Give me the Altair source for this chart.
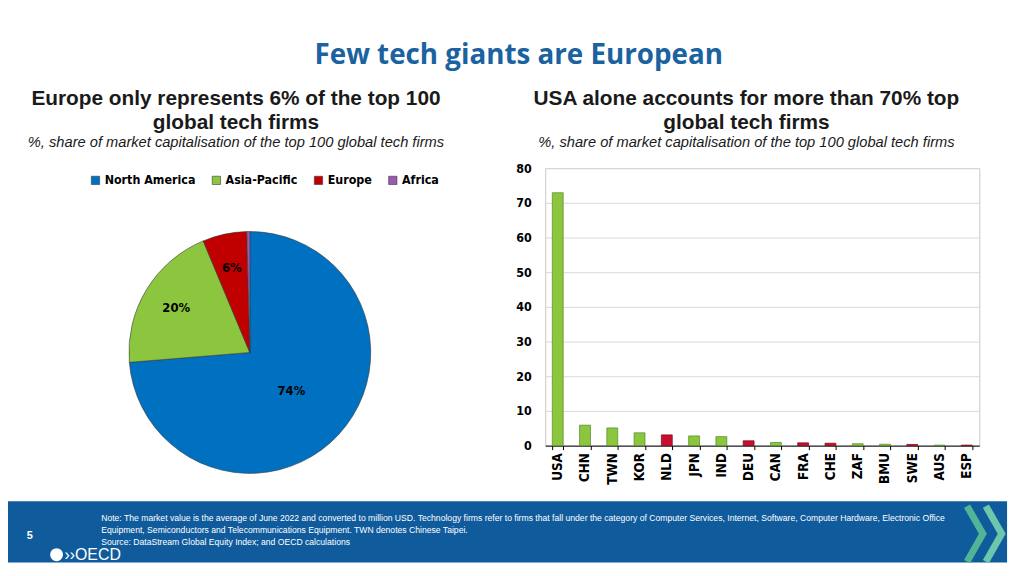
import altair as alt
import pandas as pd

# ---------------- data ----------------
regions = ["North America", "Asia-Pacific", "Europe", "Africa"]
region_share = [73.7, 20.0, 5.9, 0.4]
region_labels = ["74%", "20%", "6%", ""]
region_colors = ["#0070c0", "#8cc63f", "#c00000", "#9b59b6"]

countries = ["USA", "CHN", "TWN", "KOR", "NLD", "JPN", "IND", "DEU",
             "CAN", "FRA", "CHE", "ZAF", "BMU", "SWE", "AUS", "ESP"]
country_share = [72.9, 5.9, 5.1, 3.7, 3.1, 2.8, 2.6, 1.4,
                 0.9, 0.8, 0.7, 0.55, 0.4, 0.35, 0.15, 0.15]
country_group = ["Other", "Other", "Other", "Other", "Europe", "Other", "Other", "Europe",
                 "Other", "Europe", "Europe", "Other", "Other", "Europe", "Other", "Europe"]
y_ticks = [0, 10, 20, 30, 40, 50, 60, 70, 80]

main_title = "Few tech giants are European"
left_title = ["Europe only represents 6% of the top 100", "global tech firms"]
right_title = ["USA alone accounts for more than 70% top", "global tech firms"]
sub_title = "%, share of market capitalisation of the top 100 global tech firms"
note_lines = [
    "Note: The market value is the average of June 2022 and converted to million USD. Technology firms refer to firms that fall under the category of Computer Services, Internet, Software, Computer Hardware, Electronic Office",
    "Equipment, Semiconductors and Telecommunications Equipment. TWN denotes Chinese Taipei.",
    "Source: DataStream Global Equity Index; and OECD calculations",
]
page_number = "5"

NARROW = "Liberation Sans Narrow, DejaVu Sans Condensed, Arial Narrow, sans-serif"
ARIAL = "Liberation Sans, Arial, sans-serif"

# ---------------- pie ----------------
pie_df = pd.DataFrame({"region": regions, "share": region_share,
                       "label": region_labels, "ord": list(range(len(regions)))})

def panel_title(lines, dx, offset):
    return alt.TitleParams(
        text=lines, subtitle=sub_title, font=ARIAL, fontSize=21, fontWeight="bold",
        color="#1a1a1a", lineHeight=24, subtitleFont=ARIAL, subtitleFontSize=14.8,
        subtitleFontStyle="italic", subtitleColor="#1a1a1a", subtitlePadding=3,
        anchor="middle", frame="group", dx=dx, offset=offset)

PIE_DY = 30
pie_base = alt.Chart(pie_df).encode(
    theta=alt.Theta("share:Q", stack=True),
    order=alt.Order("ord:Q"),
)
arcs = pie_base.mark_arc(outerRadius=122, stroke="#3a3a3a", strokeWidth=0.6,
                         yOffset=PIE_DY).encode(
    color=alt.Color("region:N", scale=alt.Scale(domain=regions, range=region_colors),
                    legend=alt.Legend(orient="none", legendX=82, legendY=6,
                                      direction="horizontal", title=None,
                                      symbolType="square", symbolSize=70,
                                      symbolStrokeColor="#3a3a3a", symbolStrokeWidth=0.6,
                                      labelFont=NARROW, labelFontSize=12.5, labelFontWeight="bold",
                                      labelColor="#000000", labelOffset=3, columnPadding=14))
)
text_big = pie_base.mark_text(font=NARROW, fontSize=13, fontWeight="bold", color="#000000",
                              radius=57, yOffset=PIE_DY).encode(
    text=alt.condition("datum.share > 50", "label:N", alt.value("")))
text_small = pie_base.mark_text(font=NARROW, fontSize=13, fontWeight="bold", color="#000000",
                                radius=87, yOffset=PIE_DY).encode(
    text=alt.condition("datum.share > 50", alt.value(""), "label:N"))

pie = alt.layer(arcs, text_big, text_small).properties(
    width=488, height=312, title=panel_title(left_title, -14, 18))

# ---------------- bars ----------------
bar_df = pd.DataFrame({"country": countries, "share": country_share, "group": country_group})
bars = alt.Chart(bar_df).mark_bar(strokeWidth=0.7).encode(
    x=alt.X("country:N", sort=countries,
            scale=alt.Scale(paddingInner=0.6, paddingOuter=0.26),
            axis=alt.Axis(title=None, labelAngle=270, labelAlign="right", labelBaseline="middle",
                          labelFont=NARROW, labelFontSize=13.5, labelFontWeight="bold",
                          labelColor="#000000", labelPadding=3, tickBand="extent",
                          tickSize=4, tickColor="#000000", domainColor="#000000",
                          domainWidth=1, grid=False)),
    y=alt.Y("share:Q", scale=alt.Scale(domain=[0, 80]),
            axis=alt.Axis(title=None, values=y_ticks, grid=True, gridColor="#d9d9d9",
                          domain=False, ticks=False, labelPadding=14, labelFont=NARROW,
                          labelFontSize=12.5, labelFontWeight="bold", labelColor="#000000")),
    color=alt.Color("group:N", scale=alt.Scale(domain=["Other", "Europe"],
                                              range=["#8cc63f", "#c8102e"]), legend=None),
    stroke=alt.Stroke("group:N", scale=alt.Scale(domain=["Other", "Europe"],
                                                range=["#4f8a22", "#7a0012"]), legend=None),
).properties(width=438, height=280, title=panel_title(right_title, -16, 12),
             view=alt.ViewBackground(stroke="#c8c8c8", strokeWidth=1))

# ---------------- footer ----------------
foot_src = alt.Chart(pd.DataFrame({"k": [0]}))
foot_layers = []
for i, line in enumerate(note_lines):
    foot_layers.append(foot_src.mark_text(font=ARIAL, fontSize=8.7, color="#ffffff", align="left",
                                          baseline="middle").encode(
        x=alt.value(94), y=alt.value(17 + 12 * i), text=alt.value(line)))
foot_layers.append(foot_src.mark_text(font=ARIAL, fontSize=11, fontWeight="bold", color="#ffffff",
                                      baseline="middle").encode(
    x=alt.value(22), y=alt.value(35), text=alt.value(page_number)))
foot_layers.append(foot_src.mark_point(shape="circle", filled=True, color="#ffffff", size=170,
                                       opacity=1).encode(x=alt.value(49), y=alt.value(54)))
foot_layers.append(foot_src.mark_text(font=ARIAL, fontSize=16, color="#ffffff", align="left",
                                      baseline="middle").encode(
    x=alt.value(57), y=alt.value(54), text=alt.value("\u203a\u203aOECD")))
chevron = "M -0.3 -1 L 0.27 0 L -0.3 1"
foot_layers.append(foot_src.mark_point(shape=chevron, filled=False, color="#4fb596",
                                       strokeWidth=7, size=3136, opacity=1,
                                       strokeJoin="miter").encode(
    x=alt.value(976), y=alt.value(33)))
foot_layers.append(foot_src.mark_point(shape=chevron, filled=False, color="#6cc7ac",
                                       strokeWidth=7, size=3136, opacity=1,
                                       strokeJoin="miter").encode(
    x=alt.value(995), y=alt.value(33)))
footer = alt.layer(*foot_layers).properties(
    width=1008, height=62, view=alt.ViewBackground(fill="#0f5b9c", stroke=None))

# ---------------- compose ----------------
top = alt.hconcat(pie, bars, spacing=23).resolve_scale(color="independent", stroke="independent")
chart = alt.vconcat(top, footer, spacing=7).properties(
    title=alt.TitleParams(text=main_title, font="Open Sans, Lato, sans-serif", fontSize=28,
                          fontWeight="bold", color="#1b62a0", anchor="middle", dx=7, offset=18),
    padding={"left": 0, "top": 31, "right": 0, "bottom": 0},
    background="#ffffff",
).configure_view(stroke=None)

chart.save("out.html", embed_options={"renderer": "svg", "actions": False})
